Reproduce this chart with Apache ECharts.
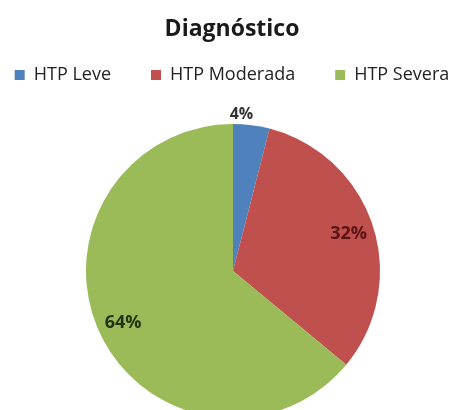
<!DOCTYPE html>
<html>
<head>
<meta charset="utf-8">
<script src="https://cdn.jsdelivr.net/npm/echarts@6/dist/echarts.min.js"></script>
<style>
  html, body { margin: 0; padding: 0; background: #fff; }
  #chart { width: 464px; height: 410px; }
</style>
</head>
<body>
<div id="chart"></div>
<script>
// datos del gráfico
var categorias = ['HTP Leve', 'HTP Moderada', 'HTP Severa'];
var valores = [4, 32, 64];
var colores = ['#4F81BD', '#C0504D', '#9BBB59'];
var coloresEtiqueta = ['#333333', '#5a1412', '#1f3310'];

var fuente = 'Open Sans';

var datos = categorias.map(function (c, i) {
  return { name: c, value: valores[i], itemStyle: { color: colores[i] } };
});

// serie de etiquetas (transparente) para situar 32% y 64% cerca del borde
var datosEtiqueta = categorias.map(function (c, i) {
  return {
    name: c,
    value: valores[i],
    label: { show: i > 0, color: coloresEtiqueta[i] }
  };
});

var myChart = echarts.init(document.getElementById('chart'));
myChart.setOption({
  animation: false,
  title: {
    text: 'Diagnóstico',
    left: 'center',
    top: 13,
    textStyle: { fontFamily: fuente, fontSize: 23, fontWeight: 'bold', color: '#1a1a1a' }
  },
  legend: {
    data: categorias,
    top: 61,
    left: 'center',
    icon: 'rect',
    itemWidth: 10,
    itemHeight: 10,
    itemGap: 40,
    textStyle: { fontFamily: fuente, fontSize: 18, color: '#222', padding: [0, 0, 0, 4] }
  },
  series: [
    {
      type: 'pie',
      center: [233, 271],
      radius: 147,
      startAngle: 90,
      clockwise: true,
      data: datos,
      label: {
        show: true,
        position: 'outside',
        formatter: function (p) { return p.dataIndex === 0 ? p.value + '%' : ''; },
        fontFamily: fuente,
        fontSize: 16,
        fontWeight: 'bold',
        color: '#333'
      },
      labelLine: { show: false, length: 2, length2: 0 },
      labelLayout: function (p) {
        return p.dataIndex === 0 ? { dx: -27, dy: -9 } : {};
      },
      emphasis: { disabled: true }
    },
    {
      type: 'pie',
      center: [233, 271],
      radius: [90, 147],
      startAngle: 90,
      clockwise: true,
      silent: true,
      data: datosEtiqueta,
      itemStyle: { color: 'rgba(0,0,0,0)' },
      label: {
        position: 'inside',
        formatter: '{c}%',
        fontFamily: fuente,
        fontSize: 18,
        fontWeight: 'bold'
      },
      labelLine: { show: false },
      emphasis: { disabled: true }
    }
  ]
});
</script>
</body>
</html>
